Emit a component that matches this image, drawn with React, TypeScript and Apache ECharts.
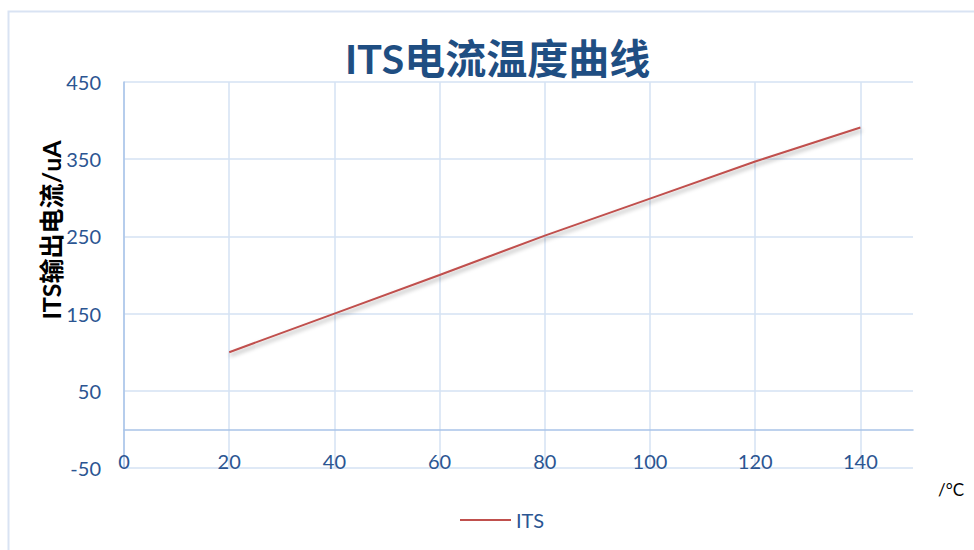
import React, { useEffect, useRef } from "react";
import * as echarts from "echarts";

const titleText = "ITS电流温度曲线";
const yAxisTitle = "ITS输出电流/uA";
const xUnit = "/°C";
const seriesName = "ITS";
const temperatures = [20, 40, 60, 80, 100, 120, 140];
const currents = [100, 150, 200, 251, 299, 347, 391];
const yTicks = [-50, 50, 150, 250, 350, 450];
const xTicks = [0, 20, 40, 60, 80, 100, 120, 140];

const LATIN = "Lato, 'Noto Sans CJK SC', sans-serif";
const TICK_COLOR = "#2B5592";
const GRID_COLOR = "#D5E2F3";
const AXIS_COLOR = "#A9C3E8";
const LINE_COLOR = "#C0504D";

export default function App() {
  const ref = useRef<HTMLDivElement>(null);
  useEffect(() => {
    if (!ref.current) return;
    const chart = echarts.init(ref.current, undefined, { renderer: "svg" });
    chart.setOption({
      animation: false,
      backgroundColor: "#ffffff",
      title: {
        text: titleText,
        left: 340,
        top: 33,
        textStyle: {
          fontFamily: LATIN,
          fontWeight: "bold",
          fontSize: 41,
          color: "#1F4E82",
        },
      },
      grid: { left: 124, right: 61, top: 82, bottom: 82 },
      legend: {
        left: 455,
        top: 505,
        icon: "rect",
        itemWidth: 51,
        itemHeight: 2,
        itemGap: 10,
        textStyle: {
          fontFamily: LATIN,
          fontSize: 20,
          color: TICK_COLOR,
          padding: [0, 0, 0, 0],
        },
        data: [seriesName],
      },
      xAxis: {
        type: "value",
        min: 0,
        max: 150,
        axisLine: { onZero: true, lineStyle: { color: AXIS_COLOR, width: 1.5 } },
        axisTick: { show: false, customValues: xTicks },
        axisLabel: {
          customValues: xTicks,
          margin: -17,
          fontFamily: LATIN,
          fontSize: 20,
          color: TICK_COLOR,
        },
        splitLine: { show: true, lineStyle: { color: GRID_COLOR, width: 1.5 } },
      },
      yAxis: {
        type: "value",
        min: -50,
        max: 450,
        axisLine: { show: true, lineStyle: { color: AXIS_COLOR, width: 1.5 } },
        axisTick: { show: false, customValues: yTicks },
        axisLabel: {
          customValues: yTicks,
          margin: 23,
          fontFamily: LATIN,
          fontSize: 20,
          color: TICK_COLOR,
        },
        splitLine: { show: true, lineStyle: { color: GRID_COLOR, width: 1.5 } },
      },
      series: [
        {
          name: seriesName,
          type: "line",
          symbol: "none",
          data: temperatures.map((t, i) => [t, currents[i]]),
          lineStyle: {
            color: LINE_COLOR,
            width: 2,
            shadowColor: "rgba(0,0,0,0.35)",
            shadowBlur: 4,
            shadowOffsetX: 1,
            shadowOffsetY: 3,
          },
          itemStyle: { color: LINE_COLOR },
        },
      ],
      graphic: [
        {
          type: "rect",
          silent: true,
          z: -1,
          shape: { x: 8.5, y: 11.5, width: 1000, height: 600 },
          style: { fill: "none", stroke: "#D9E3F3", lineWidth: 2 },
        },
        {
          type: "text",
          x: 51,
          y: 230,
          rotation: Math.PI / 2,
          style: {
            text: yAxisTitle,
            fontFamily: LATIN,
            fontWeight: "bold",
            fontSize: 25,
            fill: "#000000",
            align: "center",
            verticalAlign: "middle",
          },
        },
        {
          type: "text",
          x: 951,
          y: 489,
          style: {
            text: xUnit,
            fontFamily: LATIN,
            fontSize: 17,
            fill: "#000000",
            align: "center",
            verticalAlign: "middle",
          },
        },
      ],
    });
    return () => chart.dispose();
  }, []);
  return (
    <div
      ref={ref}
      style={{ position: "fixed", left: 0, top: 0, width: 974, height: 550 }}
    />
  );
}
